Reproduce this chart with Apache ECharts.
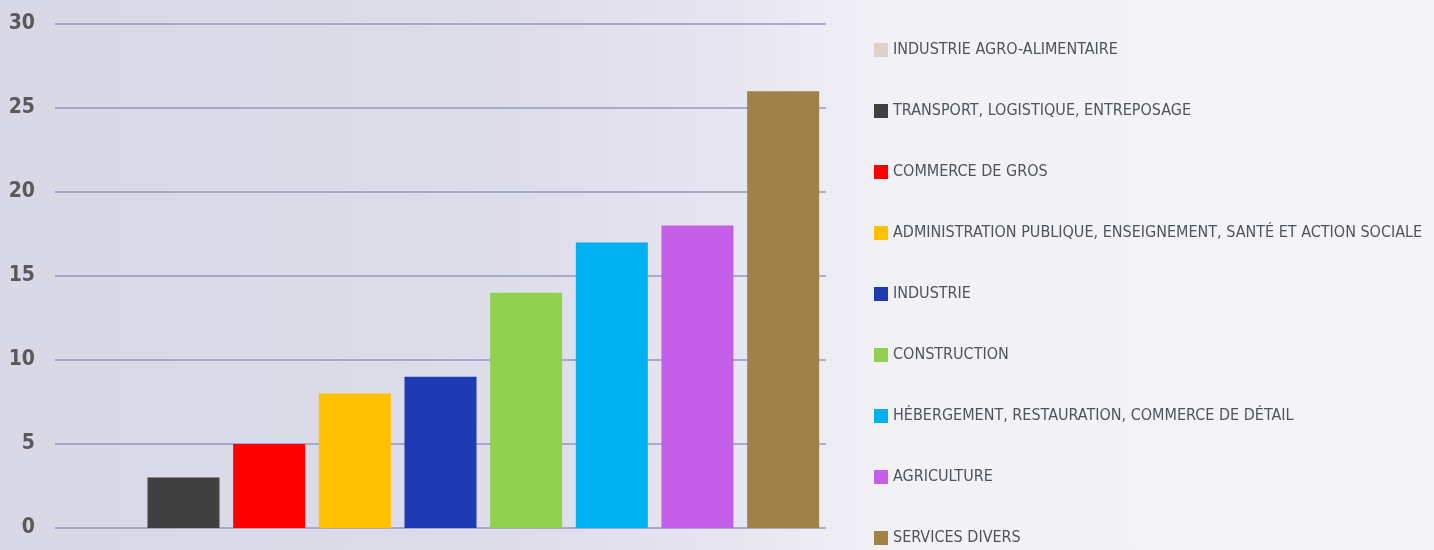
<!DOCTYPE html>
<html><head><meta charset="utf-8">
<script src="https://cdn.jsdelivr.net/npm/echarts@6/dist/echarts.min.js"></script>
<style>
html,body{margin:0;padding:0;}
#c{width:1434px;height:550px;background:linear-gradient(90deg,#d9d8e7 0%,#dddce9 35%,#e6e5f0 50%,#f1f1f6 62%,#f5f5f9 100%);}
</style></head><body><div id="c"></div>
<script>
const categories = ["INDUSTRIE AGRO-ALIMENTAIRE","TRANSPORT, LOGISTIQUE, ENTREPOSAGE","COMMERCE DE GROS","ADMINISTRATION PUBLIQUE, ENSEIGNEMENT, SANTÉ ET ACTION SOCIALE","INDUSTRIE","CONSTRUCTION","HÉBERGEMENT, RESTAURATION, COMMERCE DE DÉTAIL","AGRICULTURE","SERVICES DIVERS"];
const values = [0, 3, 5, 8, 9, 14, 17, 18, 26];
const colors = ["#dcd3c8","#404040","#ff0000","#ffc000","#1f3bb3","#92d050","#00b0f0","#c55ee8","#a08249"];
const yTicks = [0, 5, 10, 15, 20, 25, 30];

const series = categories.map((name, i) => ({
  name: name,
  type: 'bar',
  stack: 'all',
  barWidth: 72,
  itemStyle: {color: colors[i]},
  data: values.map((v, j) => j === i ? v : '-')
}));

const chart = echarts.init(document.getElementById('c'));
chart.setOption({
  animation: false,
  grid: {left: 55, right: 608, top: 24, bottom: 22},
  xAxis: {type: 'category', data: categories, axisLine: {show: false}, axisTick: {show: false}, axisLabel: {show: false}},
  yAxis: {type: 'value', min: yTicks[0], max: yTicks[yTicks.length-1], interval: 5,
    axisLine: {show: false}, axisTick: {show: false},
    axisLabel: {margin: 20, color: '#5a5a5a', fontSize: 21, fontWeight: 'bold', fontFamily: '"Liberation Sans Narrow","DejaVu Sans Condensed",sans-serif'},
    splitLine: {lineStyle: {color: '#9795c9', width: 1.5}}},
  legend: {orient: 'vertical', left: 874, top: 40, height: 540, padding: 0, itemWidth: 14, itemHeight: 14, itemGap: 41, icon: 'rect',
    textStyle: {color: '#4f545c', fontSize: 16, lineHeight: 20, fontFamily: '"Liberation Sans Narrow","DejaVu Sans Condensed",sans-serif'},
    data: categories},
  series: series
});
</script></body></html>
